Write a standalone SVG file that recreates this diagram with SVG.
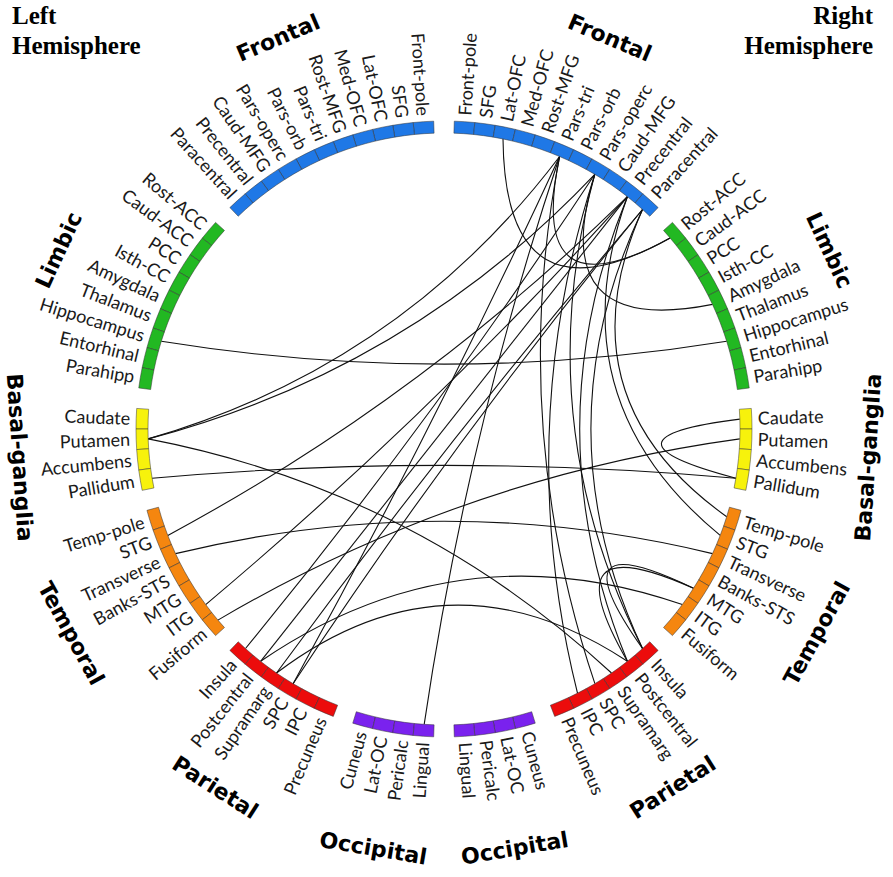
<svg xmlns="http://www.w3.org/2000/svg" xmlns:xlink="http://www.w3.org/1999/xlink" width="893" height="877" viewBox="0 0 893 877">
<style>
.cell{stroke:#333;stroke-opacity:.6;stroke-width:.8}
.fr{fill:#1f78e6}.lb{fill:#22b822}.bg{fill:#f7f20c}.tp{fill:#f5860f}.pr{fill:#ec0c0c}.oc{fill:#7a22ee}
.lab{font-family:Lato,'Open Sans',sans-serif;font-size:18px;fill:#1a1a1a}
.r{text-anchor:start}.l{text-anchor:end}
.grp{font-family:'DejaVu Sans',sans-serif;font-weight:bold;font-size:22px;text-anchor:middle;fill:#000}
.hemi{font-family:'Liberation Serif',serif;font-weight:bold;font-size:25px;fill:#000}
.con path{fill:none;stroke:#111;stroke-width:1.1}
</style>
<defs>
<path id="cell" d="M433.71,121.17 A308,308 0 0 1 454.29,121.17 L453.89,133.17 A296,296 0 0 0 434.11,133.17 Z"/>
</defs>
<rect width="893" height="877" fill="#fff"/>
<g id="connectors" class="con">
<path d="M161.3,341.3 Q444,386.9 726.7,341.3"/>
<path d="M148.2,438.9 Q400.8,366 559.6,156.5"/>
<path d="M148.2,438.9 Q409.2,370.2 594.8,174.3"/>
<path d="M148.2,438.9 Q413.2,489.9 611.5,673"/>
<path d="M152.1,478.2 Q444,452.6 735.9,478.2"/>
<path d="M167.8,535.4 Q421.7,398.8 627.4,196.7"/>
<path d="M175.5,553.6 Q444,488.8 712.5,553.6"/>
<path d="M205.7,604.6 Q430.8,415.4 627.4,196.7"/>
<path d="M217.9,620.1 Q460.7,477.2 739.8,438.9"/>
<path d="M245.5,648.5 Q432.6,420.6 594.8,174.3"/>
<path d="M260.6,661.3 Q457.2,526.9 682.3,604.6"/>
<path d="M260.6,661.3 Q444,429 627.4,196.7"/>
<path d="M276.5,673 Q447.8,543.3 627.4,661.3"/>
<path d="M276.5,673 Q451.4,434.9 642.5,209.5"/>
<path d="M293.1,683.7 Q435.5,424.7 559.6,156.5"/>
<path d="M293.1,683.7 Q455.4,437.4 642.5,209.5"/>
<path d="M424.2,724.3 Q467,434.5 559.6,156.5"/>
<path d="M503,138.9 Q505,330 670.1,237.9"/>
<path d="M559.6,156.5 Q526,317.7 670.1,237.9"/>
<path d="M739.8,419.1 Q585,438.4 735.9,478.2"/>
<path d="M594.8,174.3 Q544.6,338 712.5,304.4"/>
<path d="M559.6,156.5 Q508,424.7 594.9,683.7"/>
<path d="M594.8,174.3 Q527.8,420.6 642.5,648.5"/>
<path d="M594.8,174.3 Q512.2,431.3 577.5,693.2"/>
<path d="M627.4,196.7 Q532,429 627.4,661.3"/>
<path d="M642.5,209.5 Q539.3,429 642.5,648.5"/>
<path d="M627.4,196.7 Q554.3,398.8 720.2,535.4"/>
<path d="M642.5,209.5 Q559.5,397.4 726.7,516.7"/>
<path d="M642.5,648.5 Q551.5,519.9 693.5,588.3"/>
<path d="M627.4,661.3 Q547.9,523 693.5,588.3"/>
</g>
<!-- Right hemisphere nodes -->
<g id="R-Front-pole" transform="rotate(3.830 444 429)"><use xlink:href="#cell" class="cell fr"/><text class="lab r" x="758" y="429" dy=".35em" transform="rotate(-90 444 429)">Front-pole</text></g>
<g id="R-SFG" transform="rotate(7.660 444 429)"><use xlink:href="#cell" class="cell fr"/><text class="lab r" x="758" y="429" dy=".35em" transform="rotate(-90 444 429)">SFG</text></g>
<g id="R-Lat-OFC" transform="rotate(11.489 444 429)"><use xlink:href="#cell" class="cell fr"/><text class="lab r" x="758" y="429" dy=".35em" transform="rotate(-90 444 429)">Lat-OFC</text></g>
<g id="R-Med-OFC" transform="rotate(15.319 444 429)"><use xlink:href="#cell" class="cell fr"/><text class="lab r" x="758" y="429" dy=".35em" transform="rotate(-90 444 429)">Med-OFC</text></g>
<g id="R-Rost-MFG" transform="rotate(19.149 444 429)"><use xlink:href="#cell" class="cell fr"/><text class="lab r" x="758" y="429" dy=".35em" transform="rotate(-90 444 429)">Rost-MFG</text></g>
<g id="R-Pars-tri" transform="rotate(22.979 444 429)"><use xlink:href="#cell" class="cell fr"/><text class="lab r" x="758" y="429" dy=".35em" transform="rotate(-90 444 429)">Pars-tri</text></g>
<g id="R-Pars-orb" transform="rotate(26.809 444 429)"><use xlink:href="#cell" class="cell fr"/><text class="lab r" x="758" y="429" dy=".35em" transform="rotate(-90 444 429)">Pars-orb</text></g>
<g id="R-Pars-operc" transform="rotate(30.638 444 429)"><use xlink:href="#cell" class="cell fr"/><text class="lab r" x="758" y="429" dy=".35em" transform="rotate(-90 444 429)">Pars-operc</text></g>
<g id="R-Caud-MFG" transform="rotate(34.468 444 429)"><use xlink:href="#cell" class="cell fr"/><text class="lab r" x="758" y="429" dy=".35em" transform="rotate(-90 444 429)">Caud-MFG</text></g>
<g id="R-Precentral" transform="rotate(38.298 444 429)"><use xlink:href="#cell" class="cell fr"/><text class="lab r" x="758" y="429" dy=".35em" transform="rotate(-90 444 429)">Precentral</text></g>
<g id="R-Paracentral" transform="rotate(42.128 444 429)"><use xlink:href="#cell" class="cell fr"/><text class="lab r" x="758" y="429" dy=".35em" transform="rotate(-90 444 429)">Paracentral</text></g>
<g id="R-Rost-ACC" transform="rotate(49.787 444 429)"><use xlink:href="#cell" class="cell lb"/><text class="lab r" x="758" y="429" dy=".35em" transform="rotate(-90 444 429)">Rost-ACC</text></g>
<g id="R-Caud-ACC" transform="rotate(53.617 444 429)"><use xlink:href="#cell" class="cell lb"/><text class="lab r" x="758" y="429" dy=".35em" transform="rotate(-90 444 429)">Caud-ACC</text></g>
<g id="R-PCC" transform="rotate(57.447 444 429)"><use xlink:href="#cell" class="cell lb"/><text class="lab r" x="758" y="429" dy=".35em" transform="rotate(-90 444 429)">PCC</text></g>
<g id="R-Isth-CC" transform="rotate(61.277 444 429)"><use xlink:href="#cell" class="cell lb"/><text class="lab r" x="758" y="429" dy=".35em" transform="rotate(-90 444 429)">Isth-CC</text></g>
<g id="R-Amygdala" transform="rotate(65.106 444 429)"><use xlink:href="#cell" class="cell lb"/><text class="lab r" x="758" y="429" dy=".35em" transform="rotate(-90 444 429)">Amygdala</text></g>
<g id="R-Thalamus" transform="rotate(68.936 444 429)"><use xlink:href="#cell" class="cell lb"/><text class="lab r" x="758" y="429" dy=".35em" transform="rotate(-90 444 429)">Thalamus</text></g>
<g id="R-Hippocampus" transform="rotate(72.766 444 429)"><use xlink:href="#cell" class="cell lb"/><text class="lab r" x="758" y="429" dy=".35em" transform="rotate(-90 444 429)">Hippocampus</text></g>
<g id="R-Entorhinal" transform="rotate(76.596 444 429)"><use xlink:href="#cell" class="cell lb"/><text class="lab r" x="758" y="429" dy=".35em" transform="rotate(-90 444 429)">Entorhinal</text></g>
<g id="R-Parahipp" transform="rotate(80.426 444 429)"><use xlink:href="#cell" class="cell lb"/><text class="lab r" x="758" y="429" dy=".35em" transform="rotate(-90 444 429)">Parahipp</text></g>
<g id="R-Caudate" transform="rotate(88.085 444 429)"><use xlink:href="#cell" class="cell bg"/><text class="lab r" x="758" y="429" dy=".35em" transform="rotate(-90 444 429)">Caudate</text></g>
<g id="R-Putamen" transform="rotate(91.915 444 429)"><use xlink:href="#cell" class="cell bg"/><text class="lab r" x="758" y="429" dy=".35em" transform="rotate(-90 444 429)">Putamen</text></g>
<g id="R-Accumbens" transform="rotate(95.745 444 429)"><use xlink:href="#cell" class="cell bg"/><text class="lab r" x="758" y="429" dy=".35em" transform="rotate(-90 444 429)">Accumbens</text></g>
<g id="R-Pallidum" transform="rotate(99.574 444 429)"><use xlink:href="#cell" class="cell bg"/><text class="lab r" x="758" y="429" dy=".35em" transform="rotate(-90 444 429)">Pallidum</text></g>
<g id="R-Temp-pole" transform="rotate(107.234 444 429)"><use xlink:href="#cell" class="cell tp"/><text class="lab r" x="758" y="429" dy=".35em" transform="rotate(-90 444 429)">Temp-pole</text></g>
<g id="R-STG" transform="rotate(111.064 444 429)"><use xlink:href="#cell" class="cell tp"/><text class="lab r" x="758" y="429" dy=".35em" transform="rotate(-90 444 429)">STG</text></g>
<g id="R-Transverse" transform="rotate(114.894 444 429)"><use xlink:href="#cell" class="cell tp"/><text class="lab r" x="758" y="429" dy=".35em" transform="rotate(-90 444 429)">Transverse</text></g>
<g id="R-Banks-STS" transform="rotate(118.723 444 429)"><use xlink:href="#cell" class="cell tp"/><text class="lab r" x="758" y="429" dy=".35em" transform="rotate(-90 444 429)">Banks-STS</text></g>
<g id="R-MTG" transform="rotate(122.553 444 429)"><use xlink:href="#cell" class="cell tp"/><text class="lab r" x="758" y="429" dy=".35em" transform="rotate(-90 444 429)">MTG</text></g>
<g id="R-ITG" transform="rotate(126.383 444 429)"><use xlink:href="#cell" class="cell tp"/><text class="lab r" x="758" y="429" dy=".35em" transform="rotate(-90 444 429)">ITG</text></g>
<g id="R-Fusiform" transform="rotate(130.213 444 429)"><use xlink:href="#cell" class="cell tp"/><text class="lab r" x="758" y="429" dy=".35em" transform="rotate(-90 444 429)">Fusiform</text></g>
<g id="R-Insula" transform="rotate(137.872 444 429)"><use xlink:href="#cell" class="cell pr"/><text class="lab r" x="758" y="429" dy=".35em" transform="rotate(-90 444 429)">Insula</text></g>
<g id="R-Postcentral" transform="rotate(141.702 444 429)"><use xlink:href="#cell" class="cell pr"/><text class="lab r" x="758" y="429" dy=".35em" transform="rotate(-90 444 429)">Postcentral</text></g>
<g id="R-Supramarg" transform="rotate(145.532 444 429)"><use xlink:href="#cell" class="cell pr"/><text class="lab r" x="758" y="429" dy=".35em" transform="rotate(-90 444 429)">Supramarg</text></g>
<g id="R-SPC" transform="rotate(149.362 444 429)"><use xlink:href="#cell" class="cell pr"/><text class="lab r" x="758" y="429" dy=".35em" transform="rotate(-90 444 429)">SPC</text></g>
<g id="R-IPC" transform="rotate(153.191 444 429)"><use xlink:href="#cell" class="cell pr"/><text class="lab r" x="758" y="429" dy=".35em" transform="rotate(-90 444 429)">IPC</text></g>
<g id="R-Precuneus" transform="rotate(157.021 444 429)"><use xlink:href="#cell" class="cell pr"/><text class="lab r" x="758" y="429" dy=".35em" transform="rotate(-90 444 429)">Precuneus</text></g>
<g id="R-Cuneus" transform="rotate(164.681 444 429)"><use xlink:href="#cell" class="cell oc"/><text class="lab r" x="758" y="429" dy=".35em" transform="rotate(-90 444 429)">Cuneus</text></g>
<g id="R-Lat-OC" transform="rotate(168.511 444 429)"><use xlink:href="#cell" class="cell oc"/><text class="lab r" x="758" y="429" dy=".35em" transform="rotate(-90 444 429)">Lat-OC</text></g>
<g id="R-Pericalc" transform="rotate(172.340 444 429)"><use xlink:href="#cell" class="cell oc"/><text class="lab r" x="758" y="429" dy=".35em" transform="rotate(-90 444 429)">Pericalc</text></g>
<g id="R-Lingual" transform="rotate(176.170 444 429)"><use xlink:href="#cell" class="cell oc"/><text class="lab r" x="758" y="429" dy=".35em" transform="rotate(-90 444 429)">Lingual</text></g>
<!-- Left hemisphere nodes -->
<g id="L-Front-pole" transform="rotate(-3.830 444 429)"><use xlink:href="#cell" class="cell fr"/><text class="lab l" x="130" y="429" dy=".35em" transform="rotate(90 444 429)">Front-pole</text></g>
<g id="L-SFG" transform="rotate(-7.660 444 429)"><use xlink:href="#cell" class="cell fr"/><text class="lab l" x="130" y="429" dy=".35em" transform="rotate(90 444 429)">SFG</text></g>
<g id="L-Lat-OFC" transform="rotate(-11.489 444 429)"><use xlink:href="#cell" class="cell fr"/><text class="lab l" x="130" y="429" dy=".35em" transform="rotate(90 444 429)">Lat-OFC</text></g>
<g id="L-Med-OFC" transform="rotate(-15.319 444 429)"><use xlink:href="#cell" class="cell fr"/><text class="lab l" x="130" y="429" dy=".35em" transform="rotate(90 444 429)">Med-OFC</text></g>
<g id="L-Rost-MFG" transform="rotate(-19.149 444 429)"><use xlink:href="#cell" class="cell fr"/><text class="lab l" x="130" y="429" dy=".35em" transform="rotate(90 444 429)">Rost-MFG</text></g>
<g id="L-Pars-tri" transform="rotate(-22.979 444 429)"><use xlink:href="#cell" class="cell fr"/><text class="lab l" x="130" y="429" dy=".35em" transform="rotate(90 444 429)">Pars-tri</text></g>
<g id="L-Pars-orb" transform="rotate(-26.809 444 429)"><use xlink:href="#cell" class="cell fr"/><text class="lab l" x="130" y="429" dy=".35em" transform="rotate(90 444 429)">Pars-orb</text></g>
<g id="L-Pars-operc" transform="rotate(-30.638 444 429)"><use xlink:href="#cell" class="cell fr"/><text class="lab l" x="130" y="429" dy=".35em" transform="rotate(90 444 429)">Pars-operc</text></g>
<g id="L-Caud-MFG" transform="rotate(-34.468 444 429)"><use xlink:href="#cell" class="cell fr"/><text class="lab l" x="130" y="429" dy=".35em" transform="rotate(90 444 429)">Caud-MFG</text></g>
<g id="L-Precentral" transform="rotate(-38.298 444 429)"><use xlink:href="#cell" class="cell fr"/><text class="lab l" x="130" y="429" dy=".35em" transform="rotate(90 444 429)">Precentral</text></g>
<g id="L-Paracentral" transform="rotate(-42.128 444 429)"><use xlink:href="#cell" class="cell fr"/><text class="lab l" x="130" y="429" dy=".35em" transform="rotate(90 444 429)">Paracentral</text></g>
<g id="L-Rost-ACC" transform="rotate(-49.787 444 429)"><use xlink:href="#cell" class="cell lb"/><text class="lab l" x="130" y="429" dy=".35em" transform="rotate(90 444 429)">Rost-ACC</text></g>
<g id="L-Caud-ACC" transform="rotate(-53.617 444 429)"><use xlink:href="#cell" class="cell lb"/><text class="lab l" x="130" y="429" dy=".35em" transform="rotate(90 444 429)">Caud-ACC</text></g>
<g id="L-PCC" transform="rotate(-57.447 444 429)"><use xlink:href="#cell" class="cell lb"/><text class="lab l" x="130" y="429" dy=".35em" transform="rotate(90 444 429)">PCC</text></g>
<g id="L-Isth-CC" transform="rotate(-61.277 444 429)"><use xlink:href="#cell" class="cell lb"/><text class="lab l" x="130" y="429" dy=".35em" transform="rotate(90 444 429)">Isth-CC</text></g>
<g id="L-Amygdala" transform="rotate(-65.106 444 429)"><use xlink:href="#cell" class="cell lb"/><text class="lab l" x="130" y="429" dy=".35em" transform="rotate(90 444 429)">Amygdala</text></g>
<g id="L-Thalamus" transform="rotate(-68.936 444 429)"><use xlink:href="#cell" class="cell lb"/><text class="lab l" x="130" y="429" dy=".35em" transform="rotate(90 444 429)">Thalamus</text></g>
<g id="L-Hippocampus" transform="rotate(-72.766 444 429)"><use xlink:href="#cell" class="cell lb"/><text class="lab l" x="130" y="429" dy=".35em" transform="rotate(90 444 429)">Hippocampus</text></g>
<g id="L-Entorhinal" transform="rotate(-76.596 444 429)"><use xlink:href="#cell" class="cell lb"/><text class="lab l" x="130" y="429" dy=".35em" transform="rotate(90 444 429)">Entorhinal</text></g>
<g id="L-Parahipp" transform="rotate(-80.426 444 429)"><use xlink:href="#cell" class="cell lb"/><text class="lab l" x="130" y="429" dy=".35em" transform="rotate(90 444 429)">Parahipp</text></g>
<g id="L-Caudate" transform="rotate(-88.085 444 429)"><use xlink:href="#cell" class="cell bg"/><text class="lab l" x="130" y="429" dy=".35em" transform="rotate(90 444 429)">Caudate</text></g>
<g id="L-Putamen" transform="rotate(-91.915 444 429)"><use xlink:href="#cell" class="cell bg"/><text class="lab l" x="130" y="429" dy=".35em" transform="rotate(90 444 429)">Putamen</text></g>
<g id="L-Accumbens" transform="rotate(-95.745 444 429)"><use xlink:href="#cell" class="cell bg"/><text class="lab l" x="130" y="429" dy=".35em" transform="rotate(90 444 429)">Accumbens</text></g>
<g id="L-Pallidum" transform="rotate(-99.574 444 429)"><use xlink:href="#cell" class="cell bg"/><text class="lab l" x="130" y="429" dy=".35em" transform="rotate(90 444 429)">Pallidum</text></g>
<g id="L-Temp-pole" transform="rotate(-107.234 444 429)"><use xlink:href="#cell" class="cell tp"/><text class="lab l" x="130" y="429" dy=".35em" transform="rotate(90 444 429)">Temp-pole</text></g>
<g id="L-STG" transform="rotate(-111.064 444 429)"><use xlink:href="#cell" class="cell tp"/><text class="lab l" x="130" y="429" dy=".35em" transform="rotate(90 444 429)">STG</text></g>
<g id="L-Transverse" transform="rotate(-114.894 444 429)"><use xlink:href="#cell" class="cell tp"/><text class="lab l" x="130" y="429" dy=".35em" transform="rotate(90 444 429)">Transverse</text></g>
<g id="L-Banks-STS" transform="rotate(-118.723 444 429)"><use xlink:href="#cell" class="cell tp"/><text class="lab l" x="130" y="429" dy=".35em" transform="rotate(90 444 429)">Banks-STS</text></g>
<g id="L-MTG" transform="rotate(-122.553 444 429)"><use xlink:href="#cell" class="cell tp"/><text class="lab l" x="130" y="429" dy=".35em" transform="rotate(90 444 429)">MTG</text></g>
<g id="L-ITG" transform="rotate(-126.383 444 429)"><use xlink:href="#cell" class="cell tp"/><text class="lab l" x="130" y="429" dy=".35em" transform="rotate(90 444 429)">ITG</text></g>
<g id="L-Fusiform" transform="rotate(-130.213 444 429)"><use xlink:href="#cell" class="cell tp"/><text class="lab l" x="130" y="429" dy=".35em" transform="rotate(90 444 429)">Fusiform</text></g>
<g id="L-Insula" transform="rotate(-137.872 444 429)"><use xlink:href="#cell" class="cell pr"/><text class="lab l" x="130" y="429" dy=".35em" transform="rotate(90 444 429)">Insula</text></g>
<g id="L-Postcentral" transform="rotate(-141.702 444 429)"><use xlink:href="#cell" class="cell pr"/><text class="lab l" x="130" y="429" dy=".35em" transform="rotate(90 444 429)">Postcentral</text></g>
<g id="L-Supramarg" transform="rotate(-145.532 444 429)"><use xlink:href="#cell" class="cell pr"/><text class="lab l" x="130" y="429" dy=".35em" transform="rotate(90 444 429)">Supramarg</text></g>
<g id="L-SPC" transform="rotate(-149.362 444 429)"><use xlink:href="#cell" class="cell pr"/><text class="lab l" x="130" y="429" dy=".35em" transform="rotate(90 444 429)">SPC</text></g>
<g id="L-IPC" transform="rotate(-153.191 444 429)"><use xlink:href="#cell" class="cell pr"/><text class="lab l" x="130" y="429" dy=".35em" transform="rotate(90 444 429)">IPC</text></g>
<g id="L-Precuneus" transform="rotate(-157.021 444 429)"><use xlink:href="#cell" class="cell pr"/><text class="lab l" x="130" y="429" dy=".35em" transform="rotate(90 444 429)">Precuneus</text></g>
<g id="L-Cuneus" transform="rotate(-164.681 444 429)"><use xlink:href="#cell" class="cell oc"/><text class="lab l" x="130" y="429" dy=".35em" transform="rotate(90 444 429)">Cuneus</text></g>
<g id="L-Lat-OC" transform="rotate(-168.511 444 429)"><use xlink:href="#cell" class="cell oc"/><text class="lab l" x="130" y="429" dy=".35em" transform="rotate(90 444 429)">Lat-OC</text></g>
<g id="L-Pericalc" transform="rotate(-172.340 444 429)"><use xlink:href="#cell" class="cell oc"/><text class="lab l" x="130" y="429" dy=".35em" transform="rotate(90 444 429)">Pericalc</text></g>
<g id="L-Lingual" transform="rotate(-176.170 444 429)"><use xlink:href="#cell" class="cell oc"/><text class="lab l" x="130" y="429" dy=".35em" transform="rotate(90 444 429)">Lingual</text></g>
<!-- Group labels -->
<g id="group-labels">
<text class="grp" x="444" y="4" dy=".35em" transform="rotate(22.979 444 429)">Frontal</text>
<text class="grp" x="444" y="4" dy=".35em" transform="rotate(65.106 444 429)">Limbic</text>
<text class="grp" x="444" y="854" dy=".35em" transform="rotate(-86.17 444 429)">Basal-ganglia</text>
<text class="grp" x="444" y="854" dy=".35em" transform="rotate(-61.277 444 429)">Temporal</text>
<text class="grp" x="444" y="854" dy=".35em" transform="rotate(-32.553 444 429)">Parietal</text>
<text class="grp" x="444" y="854" dy=".35em" transform="rotate(-9.574 444 429)">Occipital</text>
<text class="grp" x="444" y="4" dy=".35em" transform="rotate(-22.979 444 429)">Frontal</text>
<text class="grp" x="444" y="4" dy=".35em" transform="rotate(-65.106 444 429)">Limbic</text>
<text class="grp" x="444" y="854" dy=".35em" transform="rotate(86.17 444 429)">Basal-ganglia</text>
<text class="grp" x="444" y="854" dy=".35em" transform="rotate(61.277 444 429)">Temporal</text>
<text class="grp" x="444" y="854" dy=".35em" transform="rotate(32.553 444 429)">Parietal</text>
<text class="grp" x="444" y="854" dy=".35em" transform="rotate(9.574 444 429)">Occipital</text>
</g>
<g id="hemisphere-labels">
<text class="hemi" x="12" y="24">Left</text>
<text class="hemi" x="12" y="54">Hemisphere</text>
<text class="hemi" x="873" y="24" text-anchor="end">Right</text>
<text class="hemi" x="873" y="54" text-anchor="end">Hemisphere</text>
</g>
</svg>
